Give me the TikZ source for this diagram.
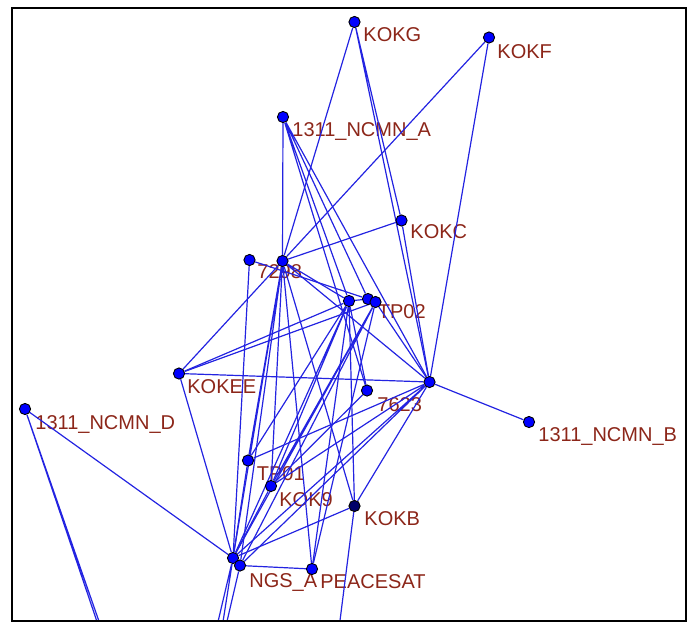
\documentclass[tikz,border=0pt]{standalone}
\usepackage{fontspec}
\setmainfont{Liberation Sans}
\usepackage{xcolor}
\usepackage{tikz}

\definecolor{linkblue}{RGB}{35,35,225}
\definecolor{dotblue}{RGB}{0,0,255}
\definecolor{dotnavy}{RGB}{0,0,105}
\definecolor{lblred}{RGB}{140,38,25}

\pgfdeclarelayer{labels}
\pgfdeclarelayer{links}
\pgfsetlayers{labels,links,main}

\tikzset{
    stn/.style={circle, draw=black, line width=0.45pt, fill=dotblue, inner sep=0pt, minimum size=5.6pt},
    lbl/.style={anchor=base west, inner sep=0pt, text=lblred, font=\fontsize{10}{12}\selectfont},
    link/.style={draw=linkblue, line width=0.6pt}
}

\begin{document}
\begin{tikzpicture}[x=0.5pt, y=-0.5pt]

\useasboundingbox (0,0) rectangle (688,622);

% Stations
\node[stn] (kokg) at (354.5,22) {};
\node[stn] (kokf) at (489,37.5) {};
\node[stn] (ncmna) at (283,117) {};
\node[stn] (kokc) at (401.5,220.5) {};
\node[stn] (s7298) at (249.5,260) {};
\node[stn] (x1) at (282.5,261) {};
\node[stn] (x2) at (349,301) {};
\node[stn] (tp02) at (368,299) {};
\node[stn] (x3) at (375.5,302) {};
\node[stn] (kokee) at (179,373.5) {};
\node[stn] (x4) at (429.5,382) {};
\node[stn] (s7623) at (367,390.5) {};
\node[stn] (ncmnb) at (529,422) {};
\node[stn] (ncmnd) at (25,409) {};
\node[stn] (tp01) at (248,460.5) {};
\node[stn] (kok9) at (271,486) {};
\node[stn, fill=dotnavy] (kokb) at (354.5,506) {};
\node[stn] (x5) at (233,558) {};
\node[stn] (ngsa) at (240,565.5) {};
\node[stn] (peacesat) at (312,569) {};

% Ends outside the frame
\coordinate (offd1) at (110,660);
\coordinate (offd2) at (112.5,660);
\coordinate (offn1) at (209,660);
\coordinate (offn2) at (217,660);
\coordinate (offn3) at (218,660);
\coordinate (offb) at (335,660);

% Station names
\begin{pgfonlayer}{labels}
\node[lbl] (kokg-l) at (363,41.5) {KOKG};
\node[lbl] (kokf-l) at (497,58) {KOKF};
\node[lbl] (ncmna-l) at (292,136.5) {1311\_NCMN\_A};
\node[lbl] (kokc-l) at (410,238.5) {KOKC};
\node[lbl] (s7298-l) at (257,278) {7298};
\node[lbl] (tp02-l) at (377.5,318) {TP02};
\node[lbl] (kokee-l) at (187,393) {KOKEE};
\node[lbl] (s7623-l) at (377,411) {7623};
\node[lbl] (ncmnb-l) at (538,441) {1311\_NCMN\_B};
\node[lbl] (ncmnd-l) at (35,429) {1311\_NCMN\_D};
\node[lbl] (tp01-l) at (256.5,480) {TP01};
\node[lbl] (kok9-l) at (279,506) {KOK9};
\node[lbl] (kokb-l) at (364,525) {KOKB};
\node[lbl] (ngsa-l) at (249,587) {NGS\_A};
\node[lbl] (peacesat-l) at (320,588) {PEACESAT};
\end{pgfonlayer}

% Baselines
\begin{pgfonlayer}{links}
\begin{scope}
    \clip (12,7.5) rectangle (685.7,621);

    % from the top stations
    \draw[link] (kokg) -- (x1) (kokg) -- (kokc) (kokg) -- (x4);
    \draw[link] (kokf) -- (x1) (kokf) -- (x4);
    \draw[link] (ncmna) -- (x1) (ncmna) -- (x2) (ncmna) -- (tp02) (ncmna) -- (x4) (ncmna) -- (s7623);
    \draw[link] (kokc) -- (x1) (kokc) -- (x4);

    % 7298 and its neighbour
    \draw[link] (s7298) -- (tp02) (s7298) -- (x5);
    \draw[link] (x1) -- (x2) (x1) -- (x4) (x1) -- (kokee) (x1) -- (x5) (x1) -- (tp01)
        (x1) -- (kok9) (x1) -- (peacesat) (x1) -- (kokb) (x1) -- (ngsa);

    % TP02 group
    \draw[link] (x2) -- (tp02) (x2) -- (s7623) (x2) -- (kokb) (x2) -- (x5) (x2) -- (tp01)
        (x2) -- (kok9) (x2) -- (peacesat) (x2) -- (kokee);
    \draw[link] (x3) -- (kokee) (x3) -- (x4) (x3) -- (x5) (x3) -- (ngsa) (x3) -- (peacesat) (x3) -- (kok9);

    % KOKEE and the hub
    \draw[link] (kokee) -- (x4) (kokee) -- (x5);
    \draw[link] (x4) -- (ncmnb) (x4) -- (tp01) (x4) -- (kok9) (x4) -- (x5) (x4) -- (ngsa) (x4) -- (kokb);
    \draw[link] (s7623) -- (kok9);

    % lower stations
    \draw[link] (tp01) -- (x5) (kok9) -- (x5) (kokb) -- (x5) (ngsa) -- (peacesat);
    \draw[link] (ncmnd) -- (x5) (ncmnd) -- (offd1) (ncmnd) -- (offd2);
    \draw[link] (x5) -- (offn1) (x5) -- (offn2) (ngsa) -- (offn3) (kokb) -- (offb);
\end{scope}
\end{pgfonlayer}

% Frame
\draw[line width=1pt] (12,7.5) rectangle (685.7,621);

\end{tikzpicture}
\end{document}
